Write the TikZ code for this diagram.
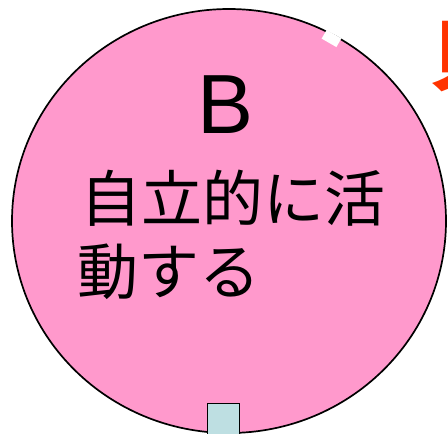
\documentclass[tikz,border=0pt]{standalone}
\usepackage{fontspec}
\usetikzlibrary{shapes.geometric}
\newfontfamily\cjk{Noto Sans CJK JP}
\newfontfamily\lib{Liberation Sans}
\definecolor{pinkfill}{HTML}{FF99CC}
\definecolor{boxblue}{HTML}{BEDFE2}
\definecolor{redtxt}{HTML}{FF3300}
\tikzset{
  bubble/.style={draw=black, line width=1.7pt, fill=pinkfill},
  lbl/.style={inner sep=0pt, anchor=base west, text=black},
  tab/.style={draw=black, line width=1.4pt, fill=boxblue},
  gap/.style={fill=white, draw=none}
}
\begin{document}
\begin{tikzpicture}[x=1pt,y=-1pt]
\useasboundingbox (0,0) rectangle (448,434);
\clip (0,0) rectangle (448,434);
\node[bubble, ellipse, minimum width=434pt, minimum height=424pt, inner sep=0pt] (circ) at (229,221) {};
\node[gap, rotate=-30, minimum width=17pt, minimum height=10pt, inner sep=0pt] (mark) at (331.5,38.5) {};
\node[tab, minimum width=32pt, minimum height=40pt, inner sep=0pt, anchor=north west] (tabbox) at (207,403) {};
\node[lbl, font=\lib\fontsize{84}{84}\selectfont] (title) at (197,133) {B};
\node[lbl, font=\cjk\fontsize{61}{61}\selectfont] (line1) at (80,221) {自立的に活};
\node[lbl, font=\cjk\fontsize{61}{61}\selectfont] (line2) at (77,294) {動する};
\node[lbl, text=redtxt, font=\cjk\bfseries\fontsize{78}{78}\selectfont] (red) at (429,84) {貝};
\end{tikzpicture}
\end{document}
